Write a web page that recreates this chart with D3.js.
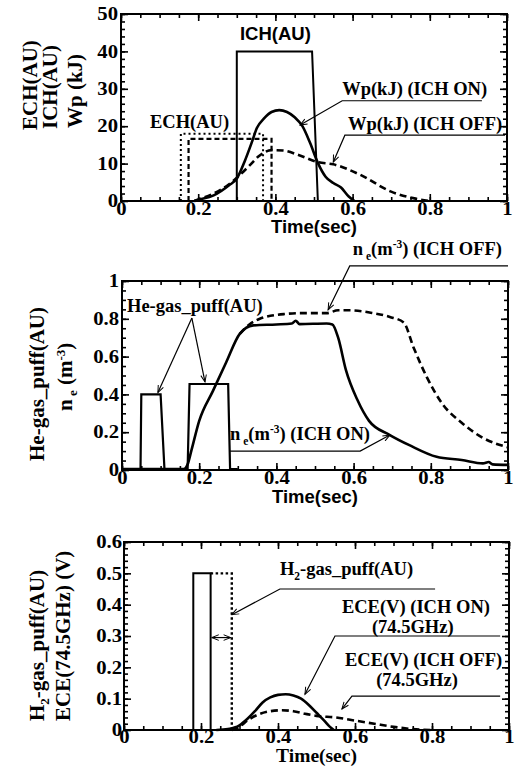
<!DOCTYPE html>
<html>
<head>
<meta charset="utf-8">
<script src="https://cdn.jsdelivr.net/npm/d3@7"></script>
<style>
  body { margin: 0; background: #fff; }
  text { font-family: "Liberation Serif", "DejaVu Serif", serif; font-weight: bold; fill: #000; }
  .sans { font-family: "Liberation Sans", Arial, sans-serif; }
</style>
</head>
<body>
<svg id="chart" width="515" height="769"></svg>
<script>
// time axis shared by all three panels
const xTicks = [0, 0.2, 0.4, 0.6, 0.8, 1];

// panel 1 : heating pulses and stored energy
const yTicks1 = [0, 10, 20, 30, 40, 50];
const ichAU = [[0.30, 0], [0.30, 40], [0.495, 40], [0.51, 0]];
const echDotted = [[0.155, 0], [0.155, 18], [0.368, 18], [0.368, 0]];
const echDashed = [[0.175, 0], [0.175, 16.6], [0.39, 16.6], [0.39, 0]];
const wpOn = [[0.19, 0], [0.2, 0.3], [0.24, 1.5], [0.28, 4.2], [0.30, 6], [0.32, 10.5], [0.34, 16],
  [0.352, 19.5], [0.37, 22], [0.39, 23.8], [0.41, 24.3], [0.43, 23.8], [0.45, 22.4], [0.47, 20],
  [0.49, 15.5], [0.51, 10.2], [0.53, 6.5], [0.55, 4.8], [0.57, 3.6], [0.59, 1.2], [0.605, 0]];
const wpOff = [[0.19, 0], [0.2, 0.4], [0.24, 2], [0.28, 4.5], [0.30, 6.2], [0.334, 9.6], [0.355, 11.8],
  [0.39, 13.6], [0.42, 13.5], [0.46, 12.3], [0.51, 10.4], [0.55, 9.8], [0.62, 7], [0.70, 2.5],
  [0.76, 0.7], [0.80, 0]];

// panel 2 : He puff and density
const yTicks2 = [0, 0.2, 0.4, 0.6, 0.8, 1];
const hePuff = [[0, 0.005], [0.048, 0.005], [0.05, 0.40], [0.10, 0.40], [0.11, 0.005], [0.17, 0.005],
  [0.175, 0.455], [0.275, 0.455], [0.28, 0.005], [0.30, 0.005]];
const neOn = [[0, 0.005], [0.16, 0.005], [0.17, 0.03], [0.18, 0.105], [0.20, 0.26], [0.236, 0.42],
  [0.27, 0.57], [0.305, 0.72], [0.34, 0.765], [0.40, 0.77], [0.44, 0.775], [0.45, 0.79], [0.46, 0.772],
  [0.53, 0.775], [0.545, 0.77], [0.56, 0.70], [0.58, 0.53], [0.61, 0.37], [0.64, 0.26], [0.694, 0.185],
  [0.746, 0.13], [0.815, 0.07], [0.88, 0.053], [0.935, 0.035], [0.95, 0.042], [0.96, 0.03], [1.0, 0.027]];
const neOff = [[0.305, 0.72], [0.33, 0.77], [0.357, 0.80], [0.42, 0.825], [0.47, 0.83], [0.53, 0.83],
  [0.56, 0.845], [0.59, 0.845], [0.65, 0.83], [0.694, 0.81], [0.73, 0.78], [0.755, 0.65], [0.79, 0.49],
  [0.83, 0.35], [0.88, 0.25], [0.935, 0.17], [1.0, 0.12]];

// panel 3 : H2 puff and ECE
const yTicks3 = [0, 0.1, 0.2, 0.3, 0.4, 0.5, 0.6];
const h2Puff = [[0.18, 0], [0.18, 0.5], [0.225, 0.5], [0.225, 0]];
const h2PuffShifted = [[0.225, 0.5], [0.28, 0.5], [0.28, 0]];
const eceOn = [[0.24, 0], [0.27, 0.003], [0.30, 0.015], [0.32, 0.035], [0.34, 0.06], [0.36, 0.088],
  [0.38, 0.104], [0.40, 0.112], [0.42, 0.114], [0.44, 0.11], [0.46, 0.1], [0.48, 0.08], [0.50, 0.055],
  [0.52, 0.03], [0.535, 0.01], [0.545, 0]];
const eceOff = [[0.28, 0], [0.30, 0.01], [0.32, 0.03], [0.35, 0.05], [0.38, 0.06], [0.41, 0.063],
  [0.44, 0.06], [0.47, 0.052], [0.50, 0.045], [0.55, 0.04], [0.60, 0.03], [0.65, 0.02], [0.70, 0.01],
  [0.75, 0.003], [0.80, 0]];

const svg = d3.select("#chart");
const fmt = d3.format("~g");

svg.append("defs").append("marker")
    .attr("id", "arrow")
    .attr("viewBox", "0 0 10 10")
    .attr("refX", 10).attr("refY", 5)
    .attr("markerWidth", 10).attr("markerHeight", 7)
    .attr("markerUnits", "userSpaceOnUse")
    .attr("orient", "auto-start-reverse")
  .append("path")
    .attr("d", "M0,1 L10,5 L0,9")
    .attr("fill", "none").attr("stroke", "#000").attr("stroke-width", 1.4);

// text with optional sub / superscript pieces
function rich(sel, parts) {
  let shift = 0;
  parts.forEach(([s, k]) => {
    const want = k === "sub" ? 5 : k === "sup" ? -7 : 0;
    sel.append("tspan").attr("dy", want - shift).attr("font-size", k ? "0.62em" : null).text(s);
    shift = want;
  });
  return sel;
}

function panel(p) {
  const x = d3.scaleLinear().domain([0, 1]).range([p.left, p.right]);
  const y = d3.scaleLinear().domain([0, p.yMax]).range([p.bottom, p.top]);
  const g = svg.append("g");

  const xMinor = d3.range(0, 1.0001, 0.05);
  const yMinor = d3.range(0, p.yMax * 1.0001, p.yStep);

  function ticks(axis, at, vals, len, f) {
    const a = g.append("g").attr("transform", at)
      .call(axis.tickValues(vals).tickSize(-len).tickPadding(p.pad).tickFormat(f || (() => "")));
    a.select(".domain").remove();
    a.attr("font-family", null).attr("font-size", null);
    a.selectAll("line").attr("stroke-width", 1.6);
    // the scanned tick digits are a little wider than plain Times bold
    a.selectAll("text").attr("font-size", 18).each(function () {
      const w = this.getComputedTextLength();
      if (w > 0) d3.select(this).attr("textLength", w * 1.15).attr("lengthAdjust", "spacingAndGlyphs");
    });
    return a;
  }
  ticks(d3.axisBottom(x), `translate(0,${p.bottom})`, xMinor, 4);
  ticks(d3.axisBottom(x), `translate(0,${p.bottom})`, xTicks, 7, fmt)
    .selectAll("text").attr("dy", "0.62em");
  ticks(d3.axisTop(x), `translate(0,${p.top})`, xMinor, 4);
  ticks(d3.axisTop(x), `translate(0,${p.top})`, xTicks, 7);
  ticks(d3.axisLeft(y), `translate(${p.left},0)`, yMinor, 4);
  ticks(d3.axisLeft(y), `translate(${p.left},0)`, p.yTicks, 7, fmt);
  ticks(d3.axisRight(y), `translate(${p.right},0)`, yMinor, 4);
  ticks(d3.axisRight(y), `translate(${p.right},0)`, p.yTicks, 7);

  g.append("rect")
    .attr("x", p.left).attr("y", p.top)
    .attr("width", p.right - p.left).attr("height", p.bottom - p.top)
    .attr("fill", "none").attr("stroke", "#000").attr("stroke-width", 2);

  const straight = d3.line().x(d => x(d[0])).y(d => y(d[1]));
  const smooth = d3.line().x(d => x(d[0])).y(d => y(d[1])).curve(d3.curveMonotoneX);

  p.series.forEach(s => {
    g.append("path").datum(s.data)
      .attr("d", s.smooth ? smooth : straight)
      .attr("fill", "none").attr("stroke", "#000")
      .attr("stroke-width", s.w || 2.4)
      .attr("stroke-dasharray", s.dash || null);
  });

  p.leaders.forEach(l => {
    g.append("path").datum(l.pts)
      .attr("d", straight)
      .attr("fill", "none").attr("stroke", "#000").attr("stroke-width", 1.2)
      .attr("marker-end", "url(#arrow)")
      .attr("marker-start", l.both ? "url(#arrow)" : null);
  });

  p.notes.forEach(n => {
    const t = g.append("text")
      .attr("x", x(n.t)).attr("y", y(n.v))
      .attr("font-size", n.size || 18.5)
      .attr("text-anchor", n.anchor || "start")
      .attr("class", n.sans ? "sans" : null);
    rich(t, n.parts);
  });

  p.yTitles.forEach(n => {
    const t = g.append("text")
      .attr("transform", `translate(${n.x},${n.y}) rotate(-90)`)
      .attr("font-size", 21);
    rich(t, n.parts);
  });

  g.append("text")
    .attr("x", (p.left + p.right) / 2).attr("y", p.xTitleY)
    .attr("text-anchor", "middle")
    .attr("font-size", p.xTitleSans ? 18.5 : 19.5)
    .attr("class", p.xTitleSans ? "sans" : null)
    .text("Time(sec)");
}

panel({
  left: 121, right: 507, top: 14, bottom: 201, pad: 3,
  yMax: 50, yStep: 2, yTicks: yTicks1,
  xTitleY: 233, xTitleSans: true,
  series: [
    { data: ichAU, w: 2 },
    { data: echDotted, w: 2, dash: "2,3" },
    { data: echDashed, w: 2.2, dash: "5,3" },
    { data: wpOn, smooth: true, w: 2.6 },
    { data: wpOff, smooth: true, w: 2.6, dash: "7,4" }
  ],
  leaders: [
    { pts: [[0.935, 26.8], [0.573, 26.8], [0.464, 20.3]] },
    { pts: [[0.995, 17.6], [0.58, 17.6], [0.55, 10.4]] }
  ],
  notes: [
    { t: 0.40, v: 43, anchor: "middle", sans: true, parts: [["ICH(AU)"]] },
    { t: 0.075, v: 19.5, parts: [["ECH(AU)"]] },
    { t: 0.573, v: 28.3, parts: [["Wp(kJ) (ICH ON)"]] },
    { t: 0.588, v: 19, parts: [["Wp(kJ) (ICH OFF)"]] }
  ],
  yTitles: [
    { x: 37, y: 130, parts: [["ECH(AU)"]] },
    { x: 57, y: 129, parts: [["ICH(AU)"]] },
    { x: 82, y: 128, parts: [["Wp (kJ)"]] }
  ]
});

panel({
  left: 122, right: 508, top: 281, bottom: 470, pad: 3,
  yMax: 1, yStep: 0.05, yTicks: yTicks2,
  xTitleY: 503, xTitleSans: true,
  series: [
    { data: hePuff, w: 2.2 },
    { data: neOn, smooth: true, w: 2.6 },
    { data: neOff, smooth: true, w: 2.6, dash: "7,4" }
  ],
  leaders: [
    { pts: [[0.181, 0.804], [0.093, 0.41]] },
    { pts: [[0.181, 0.804], [0.215, 0.466]] },
    { pts: [[1.0, 1.08], [0.59, 1.08], [0.534, 0.847]] },
    { pts: [[0.28, 0.10], [0.617, 0.10], [0.694, 0.185]] }
  ],
  notes: [
    { t: 0.013, v: 0.836, parts: [["He-gas_puff(AU)"]] },
    { t: 0.598, v: 1.14, parts: [["n"], [" e", "sub"], ["(m"], ["-3", "sup"], [") (ICH OFF)"]] },
    { t: 0.28, v: 0.16, parts: [["n"], [" e", "sub"], ["(m"], ["-3", "sup"], [") (ICH ON)"]] }
  ],
  yTitles: [
    { x: 44, y: 461, parts: [["He-gas_puff(AU)"]] },
    { x: 72, y: 411, parts: [["n"], [" e", "sub"], [" (m"], ["-3", "sup"], [")"]] }
  ]
});

panel({
  left: 124, right: 509, top: 542, bottom: 730, pad: 2,
  yMax: 0.6, yStep: 0.02, yTicks: yTicks3,
  xTitleY: 762, xTitleSans: false,
  series: [
    { data: h2Puff, w: 2 },
    { data: h2PuffShifted, w: 2.4, dash: "2.5,2.5" },
    { data: eceOn, smooth: true, w: 2.6 },
    { data: eceOff, smooth: true, w: 2.6, dash: "7,4" }
  ],
  leaders: [
    { pts: [[0.808, 0.45], [0.405, 0.45], [0.28, 0.368]] },
    { pts: [[0.977, 0.30], [0.548, 0.30], [0.47, 0.114]] },
    { pts: [[0.977, 0.108], [0.592, 0.108], [0.566, 0.067]] },
    { pts: [[0.228, 0.295], [0.277, 0.295]], both: true }
  ],
  notes: [
    { t: 0.405, v: 0.495, parts: [["H"], ["2", "sub"], ["-gas_puff(AU)"]] },
    { t: 0.566, v: 0.375, parts: [["ECE(V) (ICH ON)"]] },
    { t: 0.75, v: 0.311, anchor: "middle", parts: [["(74.5GHz)"]] },
    { t: 0.574, v: 0.203, parts: [["ECE(V) (ICH OFF)"]] },
    { t: 0.761, v: 0.14, anchor: "middle", parts: [["(74.5GHz)"]] }
  ],
  yTitles: [
    { x: 44, y: 721, parts: [["H"], ["2", "sub"], ["-gas_puff(AU)"]] },
    { x: 70, y: 721, parts: [["ECE(74.5GHz) (V)"]] }
  ]
});
</script>
</body>
</html>
